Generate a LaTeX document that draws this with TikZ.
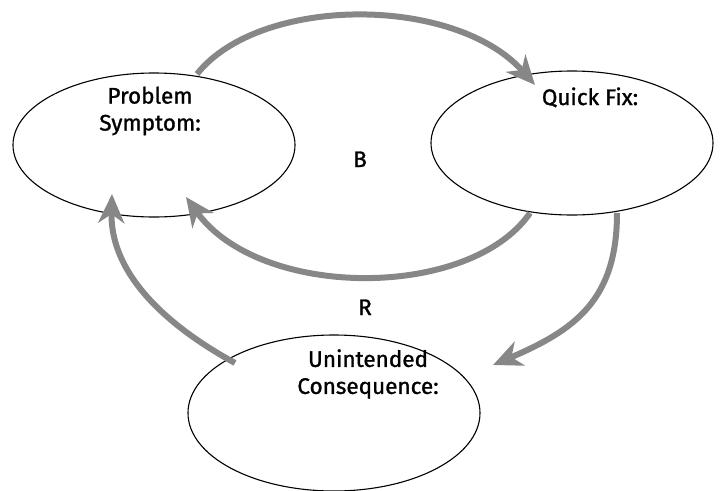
\documentclass[tikz,border=0pt]{standalone}
\usepackage{fontspec}
\setmainfont{Fira Sans}
\newfontfamily\handfont{Fira Sans}[FakeBold=1.2]
\usetikzlibrary{shapes.geometric,arrows.meta}
\definecolor{arrowgray}{HTML}{878787}
\begin{document}
\begin{tikzpicture}[x=1pt,y=-1pt,
  loopbox/.style={ellipse,draw=black,line width=1.1pt,minimum width=282pt,minimum height=144pt,inner sep=0pt},
  lbl/.style={font=\handfont\fontsize{22.5}{27}\selectfont,align=center,text=black,inner sep=0pt},
  flow/.style={draw=arrowgray,line width=6pt,-{Stealth[length=29pt,width=26pt,inset=9pt]}}]
\useasboundingbox (0,0) rectangle (720,490);
\node[loopbox] (ps) at (154,145) {};
\node[loopbox] (qf) at (572,143) {};
\node[loopbox,minimum width=292pt,minimum height=156pt] (uc) at (334,413) {};
\node[lbl] (pst) at (150,111) {Problem\\Symptom:};
\node[lbl,anchor=base] (qft) at (590,105) {Quick Fix:};
\node[lbl] (uct) at (368,374) {Unintended\\Consequence:};
\node[lbl,anchor=base] (b) at (360,167) {B};
\node[lbl,anchor=base] (r) at (365,315) {R};
\draw[flow] ([shift={(43,-71)}]ps.center) .. controls (260,-5) and (455,-5) .. ([shift={(-37,-58)}]qf.center);
\draw[flow] ([shift={(-42,70)}]qf.center) .. controls (470,300) and (260,300) .. ([shift={(32,52)}]ps.center);
\draw[flow] ([shift={(45,70)}]qf.center) .. controls (617,300) and (575,330) .. ([shift={(159,-48)}]uc.center);
\draw[flow] ([shift={(-99,-50)}]uc.center) .. controls (160,322) and (110,270) .. ([shift={(-42,49)}]ps.center);
\end{tikzpicture}
\end{document}
